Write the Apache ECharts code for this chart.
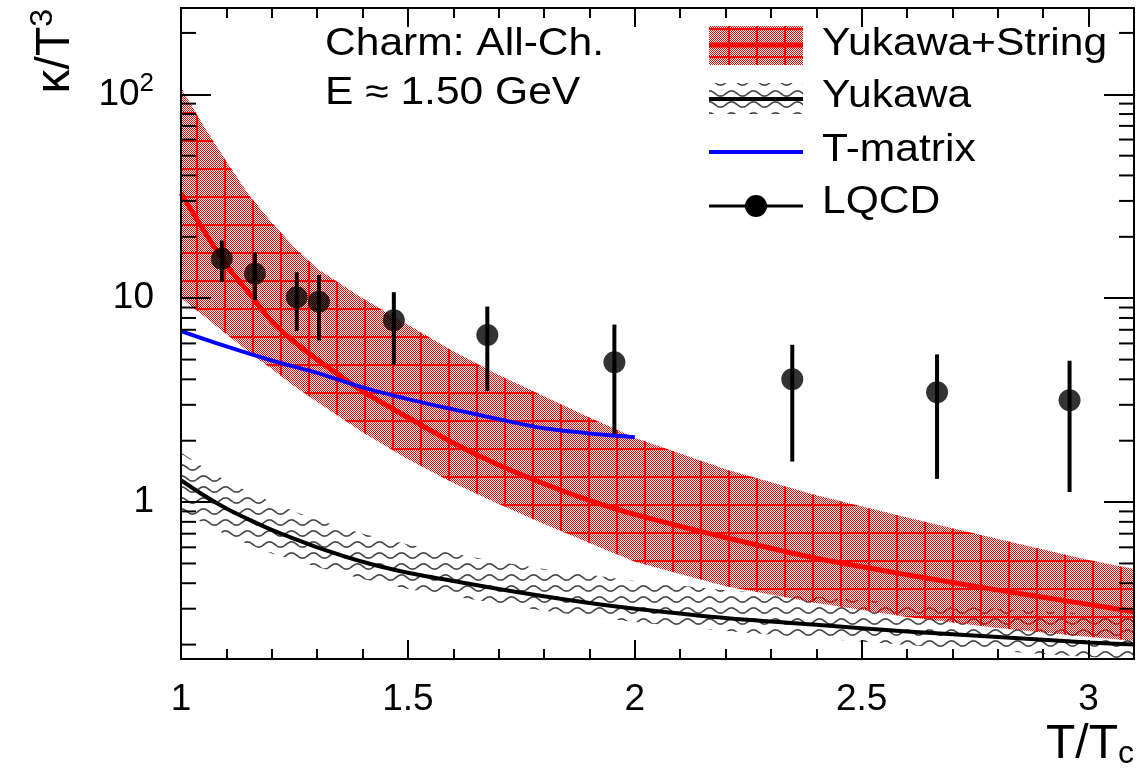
<!DOCTYPE html>
<html>
<head>
<meta charset="utf-8">
<script src="https://cdn.jsdelivr.net/npm/echarts/dist/echarts.min.js"></script>
<style>
  html, body { margin: 0; padding: 0; background: #fff; }
  #chart { width: 1145px; height: 774px; }
</style>
</head>
<body>
<div id="chart"></div>
<script>
// Temperature grid (T/Tc) for the model curves
const tGrid = [1.0, 1.05, 1.1, 1.15, 1.2, 1.25, 1.3, 1.4, 1.5, 1.6, 1.7, 1.8, 1.9, 2.0, 2.2, 2.4, 2.6, 2.8, 3.0, 3.1];

// Yukawa+String: central curve and band edges
const ysCentral = [32.7, 21.5, 14.5, 10.6, 7.7, 6.1, 5.0, 3.5, 2.6, 1.95, 1.52, 1.23, 1.02, 0.87, 0.67, 0.53, 0.44, 0.37, 0.315, 0.29];
const ysUpper   = [108, 70, 47, 32, 23.5, 17.8, 14.0, 10.0, 7.4, 5.5, 4.2, 3.3, 2.6, 2.07, 1.45, 1.08, 0.84, 0.66, 0.52, 0.47];
const ysLower   = [10.0, 8.2, 6.65, 5.45, 4.5, 3.7, 3.1, 2.2, 1.62, 1.24, 0.98, 0.78, 0.63, 0.51, 0.387, 0.32, 0.273, 0.241, 0.218, 0.209];

// Yukawa only: central curve and band edges
const yukCentral = [1.28, 1.08, 0.93, 0.82, 0.73, 0.66, 0.6, 0.51, 0.45, 0.41, 0.375, 0.345, 0.32, 0.30, 0.27, 0.25, 0.232, 0.218, 0.205, 0.2];
const yukUpper   = [1.75, 1.48, 1.27, 1.12, 1.0, 0.9, 0.82, 0.70, 0.62, 0.56, 0.51, 0.47, 0.44, 0.41, 0.37, 0.343, 0.318, 0.30, 0.283, 0.276];
const yukLower   = [0.90, 0.79, 0.69, 0.62, 0.56, 0.52, 0.48, 0.42, 0.375, 0.345, 0.317, 0.293, 0.274, 0.258, 0.233, 0.215, 0.199, 0.186, 0.174, 0.17];

// T-matrix curve
const tmatT   = [1.0, 1.1, 1.2, 1.3, 1.4, 1.5, 1.6, 1.7, 1.8, 1.9, 2.0];
const tmatVal = [6.9, 5.8, 4.95, 4.3, 3.65, 3.2, 2.85, 2.55, 2.3, 2.17, 2.08];

// Lattice QCD points with error ranges
const lqcdT    = [1.090, 1.163, 1.255, 1.304, 1.469, 1.675, 1.955, 2.347, 2.666, 2.958];
const lqcdVal  = [15.6, 13.2, 10.1, 9.6, 7.8, 6.6, 4.85, 4.0, 3.46, 3.16];
const lqcdLow  = [12.0, 9.8, 6.9, 6.2, 4.7, 3.5, 2.16, 1.58, 1.30, 1.12];
const lqcdHigh = [19.2, 16.8, 13.4, 13.0, 10.7, 9.1, 7.42, 5.91, 5.3, 4.93];

// Axis ranges and tick values
const xMin = 1, xMax = 3.1;
const yMin = 0.17, yMax = 265;
const yMinorTicks = [0.2, 0.3, 0.4, 0.5, 0.6, 0.7, 0.8, 0.9, 2, 3, 4, 5, 6, 7, 8, 9, 20, 30, 40, 50, 60, 70, 80, 90, 200];

const FONT = 'Liberation Sans';

// Fill patterns: red dotted mesh and grey wavy hatch
function redPattern() {
  const w = 28, h = 28;
  const c = document.createElement('canvas');
  c.width = w; c.height = h;
  const ctx = c.getContext('2d');
  const img = ctx.createImageData(w, h);
  for (let y = 0; y < h; y++) {
    for (let x = 0; x < w; x++) {
      const on = ((x + y) % 2 === 0) || x < 2 || y < 2;
      const k = (y * w + x) * 4;
      if (on) { img.data[k] = 255; img.data[k + 1] = 0; img.data[k + 2] = 0; img.data[k + 3] = 255; }
    }
  }
  ctx.putImageData(img, 0, 0);
  return c;
}
function wavePattern() {
  const w = 22, h = 11;
  const c = document.createElement('canvas');
  c.width = w; c.height = h;
  const ctx = c.getContext('2d');
  ctx.strokeStyle = '#444';
  ctx.lineWidth = 1.6;
  ctx.beginPath();
  for (let x = -1; x <= w + 1; x += 0.5) {
    const y = 5.5 - 2.6 * Math.sin(2 * Math.PI * x / w);
    if (x === -1) ctx.moveTo(x, y); else ctx.lineTo(x, y);
  }
  ctx.stroke();
  return c;
}
const RED_FILL = { image: redPattern(), repeat: 'repeat' };
const WAVE_FILL = { image: wavePattern(), repeat: 'repeat' };

function pairs(xs, ys) { return xs.map((x, i) => [x, ys[i]]); }

// Band drawn as one polygon: upper edge left to right, lower edge back
function bandSeries(name, lower, upper, fill, z) {
  return {
    type: 'custom', name: name, silent: true, z: z, clip: true,
    data: tGrid.map((t, i) => [t, lower[i], upper[i]]),
    encode: { x: 0, y: [1, 2] },
    renderItem: function (params, api) {
      if (params.dataIndexInside !== 0) return null;
      const n = params.dataInsideLength;
      const top = [], bottom = [];
      for (let i = 0; i < n; i++) {
        const t = api.value(0, i);
        top.push(api.coord([t, api.value(2, i)]));
        bottom.push(api.coord([t, api.value(1, i)]));
      }
      return {
        type: 'polygon',
        shape: { points: top.concat(bottom.reverse()) },
        style: { fill: fill, stroke: null }
      };
    }
  };
}

const chart = echarts.init(document.getElementById('chart'), null, { renderer: 'canvas' });

const labelStyle = { fontFamily: FONT, fontSize: 37, color: '#000' };

function xAxisDef(position, interval, tickLen, showLabel) {
  return {
    type: 'value', position: position, min: xMin, max: xMax, interval: interval,
    z: 10,
    axisLine: { show: true, onZero: false, lineStyle: { color: '#000', width: 2 } },
    axisTick: { show: true, inside: true, length: tickLen, lineStyle: { color: '#000', width: 2 } },
    splitLine: { show: false },
    axisLabel: showLabel ? Object.assign({ show: true, margin: 22, showMaxLabel: false, showMinLabel: true }, labelStyle) : { show: false }
  };
}
function yAxisDef(position, showLabel) {
  return {
    type: 'log', logBase: 10, position: position, min: yMin, max: yMax,
    z: 10,
    axisLine: { show: true, onZero: false, lineStyle: { color: '#000', width: 2 } },
    axisTick: { show: true, inside: true, length: 30, lineStyle: { color: '#000', width: 2 } },
    splitLine: { show: false },
    axisLabel: showLabel ? Object.assign({
      show: true, margin: 27,
      formatter: function (v) {
        if (Math.abs(v - 1) < 1e-6) return '{b|1}';
        if (Math.abs(v - 10) < 1e-5) return '{b|10}';
        if (Math.abs(v - 100) < 1e-4) return '{b|10}{s|2}';
        return '';
      },
      rich: {
        b: { fontFamily: FONT, fontSize: 37, color: '#000', lineHeight: 46 },
        s: { fontFamily: FONT, fontSize: 26, color: '#000', verticalAlign: 'top' }
      }
    }, labelStyle) : { show: false }
  };
}

const lineCommon = { type: 'line', smooth: 0.25, showSymbol: false, silent: true };

const option = {
  animation: false,
  backgroundColor: '#fff',
  grid: { left: 181, top: 8, width: 953, height: 651, outerBoundsMode: 'none' },
  xAxis: [
    xAxisDef('bottom', 0.5, 19, true),
    xAxisDef('bottom', 0.1, 10, false),
    xAxisDef('top', 0.5, 19, false),
    xAxisDef('top', 0.1, 10, false)
  ],
  yAxis: [
    yAxisDef('left', true),
    yAxisDef('right', false)
  ],
  series: [
    bandSeries('Yukawa band', yukLower, yukUpper, WAVE_FILL, 2),
    bandSeries('Yukawa+String band', ysLower, ysUpper, RED_FILL, 3),
    Object.assign({}, lineCommon, { name: 'Yukawa', data: pairs(tGrid, yukCentral), lineStyle: { color: '#000', width: 4 }, z: 4 }),
    Object.assign({}, lineCommon, { name: 'Yukawa+String', data: pairs(tGrid, ysCentral), lineStyle: { color: '#ff0000', width: 5 }, z: 4 }),
    Object.assign({}, lineCommon, { name: 'T-matrix', data: pairs(tmatT, tmatVal), lineStyle: { color: '#0000ff', width: 4 }, z: 5 }),
    // LQCD error bars
    {
      type: 'custom', name: 'LQCD bars', silent: true, z: 6,
      data: lqcdT.map((t, i) => [t, lqcdLow[i], lqcdHigh[i]]),
      encode: { x: 0, y: [1, 2] },
      renderItem: function (params, api) {
        const p1 = api.coord([api.value(0), api.value(1)]);
        const p2 = api.coord([api.value(0), api.value(2)]);
        return { type: 'line', shape: { x1: p1[0], y1: p1[1], x2: p2[0], y2: p2[1] },
                 style: { stroke: '#000', lineWidth: 4 } };
      }
    },
    {
      type: 'scatter', name: 'LQCD', data: pairs(lqcdT, lqcdVal), symbol: 'circle', symbolSize: 22,
      itemStyle: { color: '#000' }, silent: true, z: 7
    },
    // Minor ticks of the logarithmic axis, on both sides of the frame
    {
      type: 'custom', name: 'yMinor', silent: true, z: 11, clip: false,
      data: yMinorTicks.map(v => [xMin, v]),
      encode: { x: 0, y: 1 },
      renderItem: function (params, api) {
        const y = api.coord([xMin, api.value(1)])[1];
        const cs = params.coordSys;
        return {
          type: 'group', children: [
            { type: 'line', shape: { x1: cs.x, y1: y, x2: cs.x + 15, y2: y }, style: { stroke: '#000', lineWidth: 2 } },
            { type: 'line', shape: { x1: cs.x + cs.width - 15, y1: y, x2: cs.x + cs.width, y2: y }, style: { stroke: '#000', lineWidth: 2 } }
          ]
        };
      }
    }
  ],
  graphic: [
    // Axis titles
    {
      type: 'text', x: 85, y: 9, rotation: Math.PI / 2, z: 20,
      style: {
        text: '{m|κ/T}{s|3}', textAlign: 'right', textVerticalAlign: 'bottom',
        rich: {
          m: { fontFamily: FONT, fontSize: 48, fill: '#000', lineHeight: 58 },
          s: { fontFamily: FONT, fontSize: 32, fill: '#000', verticalAlign: 'top' }
        }
      }
    },
    {
      type: 'text', x: 1134, y: 745, z: 20,
      style: {
        text: '{m|T/T}{s|c}', textAlign: 'right', textVerticalAlign: 'middle',
        rich: {
          m: { fontFamily: FONT, fontSize: 48, fill: '#000', lineHeight: 50 },
          s: { fontFamily: FONT, fontSize: 32, fill: '#000', verticalAlign: 'bottom', lineHeight: 32, padding: [30, 0, 0, 0] }
        }
      }
    },
    // Annotation
    {
      type: 'text', x: 325, y: 45, scaleX: 1.12, z: 20,
      style: { text: 'Charm: All-Ch.', fontFamily: FONT, fontSize: 38, fill: '#000', textAlign: 'left', textVerticalAlign: 'middle' }
    },
    {
      type: 'text', x: 325, y: 94, scaleX: 1.12, z: 20,
      style: { text: 'E ≈ 1.50 GeV', fontFamily: FONT, fontSize: 38, fill: '#000', textAlign: 'left', textVerticalAlign: 'middle' }
    },
    // Legend
    { type: 'rect', shape: { x: 709, y: 26, width: 94, height: 39 }, style: { fill: RED_FILL }, z: 20 },
    { type: 'line', shape: { x1: 709, y1: 45, x2: 803, y2: 45 }, style: { stroke: '#ff0000', lineWidth: 5 }, z: 21 },
    { type: 'text', x: 822, y: 45, scaleX: 1.12, z: 20,
      style: { text: 'Yukawa+String', fontFamily: FONT, fontSize: 38, fill: '#000', textAlign: 'left', textVerticalAlign: 'middle' } },

    { type: 'rect', shape: { x: 709, y: 83, width: 94, height: 31 }, style: { fill: WAVE_FILL }, z: 20 },
    { type: 'line', shape: { x1: 709, y1: 99, x2: 803, y2: 99 }, style: { stroke: '#000', lineWidth: 4 }, z: 21 },
    { type: 'text', x: 822, y: 97, scaleX: 1.12, z: 20,
      style: { text: 'Yukawa', fontFamily: FONT, fontSize: 38, fill: '#000', textAlign: 'left', textVerticalAlign: 'middle' } },

    { type: 'line', shape: { x1: 709, y1: 152, x2: 803, y2: 152 }, style: { stroke: '#0000ff', lineWidth: 4 }, z: 21 },
    { type: 'text', x: 822, y: 151, scaleX: 1.12, z: 20,
      style: { text: 'T-matrix', fontFamily: FONT, fontSize: 38, fill: '#000', textAlign: 'left', textVerticalAlign: 'middle' } },

    { type: 'line', shape: { x1: 709, y1: 206, x2: 803, y2: 206 }, style: { stroke: '#000', lineWidth: 3 }, z: 21 },
    { type: 'circle', shape: { cx: 756, cy: 206, r: 11 }, style: { fill: '#000' }, z: 22 },
    { type: 'text', x: 822, y: 203, scaleX: 1.12, z: 20,
      style: { text: 'LQCD', fontFamily: FONT, fontSize: 38, fill: '#000', textAlign: 'left', textVerticalAlign: 'middle' } }
  ]
};

chart.setOption(option);
</script>
</body>
</html>
